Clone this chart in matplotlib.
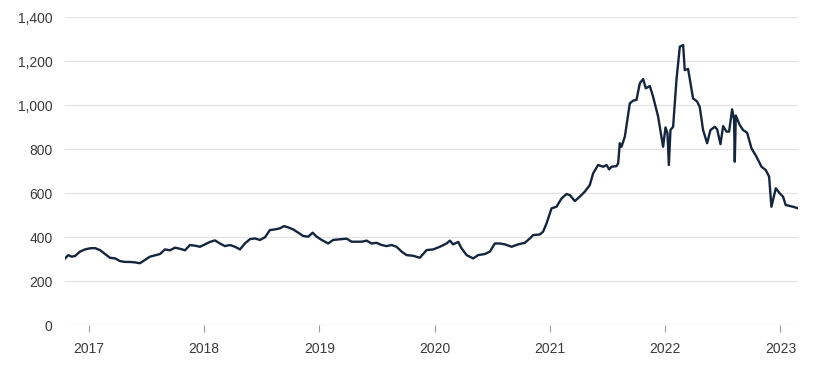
import numpy as np
import matplotlib
matplotlib.use("Agg")
import matplotlib.pyplot as plt

# weekly-ish readings, time in decimal years
annees = [
    2016.792, 2016.820, 2016.850, 2016.879, 2016.922, 2016.965, 2017.009, 2017.052,
    2017.095, 2017.139, 2017.182, 2017.226, 2017.269, 2017.312, 2017.356, 2017.399,
    2017.442, 2017.486, 2017.529, 2017.573, 2017.616, 2017.659, 2017.703, 2017.746,
    2017.789, 2017.833, 2017.876, 2017.920, 2017.963, 2018.006, 2018.050, 2018.093,
    2018.136, 2018.180, 2018.223, 2018.267, 2018.310, 2018.353, 2018.397, 2018.440,
    2018.483, 2018.527, 2018.570, 2018.614, 2018.657, 2018.692, 2018.729, 2018.772,
    2018.816, 2018.859, 2018.902, 2018.941, 2018.975, 2019.019, 2019.076, 2019.119,
    2019.177, 2019.236, 2019.279, 2019.322, 2019.366, 2019.409, 2019.452, 2019.496,
    2019.539, 2019.583, 2019.626, 2019.669, 2019.713, 2019.756, 2019.813, 2019.871,
    2019.930, 2019.987, 2020.045, 2020.103, 2020.132, 2020.160, 2020.204, 2020.233,
    2020.277, 2020.334, 2020.377, 2020.435, 2020.479, 2020.522, 2020.565, 2020.609,
    2020.667, 2020.724, 2020.782, 2020.826, 2020.854, 2020.912, 2020.941, 2020.971,
    2021.014, 2021.057, 2021.101, 2021.144, 2021.173, 2021.216, 2021.259, 2021.303,
    2021.346, 2021.375, 2021.418, 2021.462, 2021.491, 2021.514, 2021.534, 2021.578,
    2021.592, 2021.606, 2021.621, 2021.650, 2021.693, 2021.722, 2021.751, 2021.780,
    2021.809, 2021.832, 2021.867, 2021.895, 2021.939, 2021.982, 2022.003, 2022.020,
    2022.032, 2022.046, 2022.069, 2022.098, 2022.127, 2022.156, 2022.170, 2022.199,
    2022.242, 2022.277, 2022.300, 2022.329, 2022.364, 2022.393, 2022.431, 2022.451,
    2022.480, 2022.503, 2022.532, 2022.555, 2022.581, 2022.598, 2022.604, 2022.613,
    2022.647, 2022.676, 2022.711, 2022.749, 2022.792, 2022.836, 2022.873, 2022.902,
    2022.922, 2022.960, 2022.994, 2023.023, 2023.046, 2023.110, 2023.153,
]
valeurs = [
    303, 318, 311, 314, 334, 344, 349, 350,
    341, 323, 306, 303, 291, 287, 287, 285,
    281, 296, 311, 317, 323, 344, 340, 352,
    347, 340, 364, 361, 356, 367, 378, 385,
    371, 359, 364, 356, 344, 371, 391, 394,
    387, 399, 432, 435, 440, 450, 444, 435,
    420, 405, 402, 420, 402, 387, 371, 387,
    390, 393, 379, 379, 379, 384, 371, 374,
    364, 359, 364, 356, 334, 318, 315, 306,
    341, 344, 356, 371, 384, 367, 378, 349,
    318, 303, 318, 323, 334, 371, 371, 367,
    356, 367, 374, 394, 409, 412, 425, 463,
    531, 538, 576, 596, 591, 564, 584, 607,
    637, 690, 728, 720, 728, 708, 720, 723,
    735, 827, 811, 857, 1008, 1021, 1024, 1100,
    1119, 1077, 1087, 1039, 948, 811, 899, 872,
    728, 887, 902, 1115, 1266, 1274, 1160, 1165,
    1031, 1017, 992, 887, 827, 887, 902, 890,
    823, 905, 880, 880, 981, 935, 743, 953,
    910, 887, 875, 804, 766, 720, 705, 675,
    538, 622, 599, 584, 546, 538, 531,
]
ticks_y = [0, 200, 400, 600, 800, 1000, 1200, 1400]
ticks_x = [2017, 2018, 2019, 2020, 2021, 2022, 2023]

plt.rcParams['font.family'] = ['Liberation Sans', 'DejaVu Sans']

fig = plt.figure(figsize=(8.19, 3.72), dpi=100)
ax = fig.add_axes([0.0794, 0.1263, 0.8950, 0.8272])

ax.plot(annees, valeurs, color="#13253f", lw=1.7, solid_joinstyle="round")

ax.set_xlim(2016.792, 2023.153)
ax.set_ylim(0, 1400)
ax.set_yticks(ticks_y)
ax.set_yticklabels([f"{v:,}" for v in ticks_y])
ax.set_xticks(ticks_x)
ax.set_xticklabels([str(a) for a in ticks_x])

ax.grid(axis="y", color="#e4e4e4", lw=0.9)
ax.set_axisbelow(True)
for s in ax.spines.values():
    s.set_visible(False)

ax.tick_params(axis="y", length=0, pad=9, labelsize=10, labelcolor="#3a3a3a")
ax.tick_params(axis="x", length=5, width=0.8, color="#9a9a9a", pad=7,
               labelsize=10, labelcolor="#3a3a3a")

fig.savefig("out.png", dpi=100, facecolor="white")
